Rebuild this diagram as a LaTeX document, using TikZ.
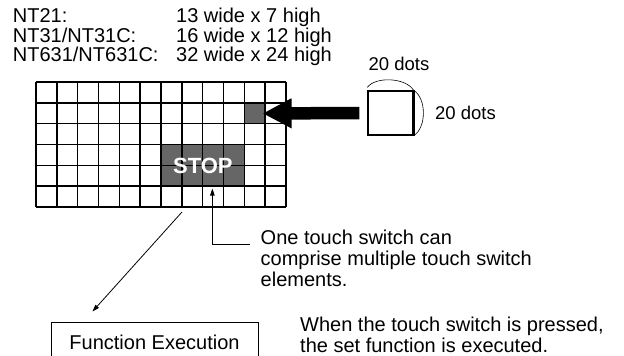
\documentclass[tikz,border=0pt]{standalone}
\usepackage{fontspec}
\setmainfont{Liberation Sans}
\usetikzlibrary{arrows.meta,positioning}
\definecolor{cellgray}{RGB}{102,102,102}

\tikzset{
  gridline/.style={line width=1.4pt},
  cellfill/.style={fill=cellgray, inner sep=0pt, anchor=north west},
  pointer/.style={line width=0.8pt, -{Triangle[length=7pt,width=4.5pt]}},
  dimarc/.style={line width=0.6pt},
  txt/.style={inner sep=0pt, align=left}
}

\begin{document}
\begin{tikzpicture}[x=1pt,y=-1pt,font=\fontsize{20}{21}\selectfont]
    \useasboundingbox (0,0) rectangle (624,356);
    % model sizes
    \node[txt, anchor=base west] (m1) at (12.7,23) {NT21:};
    \node[txt, anchor=base west] (m2) at (12.7,42) {NT31/NT31C:};
    \node[txt, anchor=base west] (m3) at (12.7,61) {NT631/NT631C:};
    \node[txt, anchor=base west] (s1) at (176,23) {13 wide x 7 high};
    \node[txt, anchor=base west] (s2) at (176,42) {16 wide x 12 high};
    \node[txt, anchor=base west] (s3) at (176,61) {32 wide x 24 high};
    % touch panel
    \node[cellfill, minimum size=20.83pt] (hot) at (244.33,102.83) {};
    \node[cellfill, minimum width=83.33pt, minimum height=41.67pt] (stop) at (161,144.5) {};
    \foreach \i in {0,...,12}
      \draw[gridline] (36+\i*20.833,82) -- (36+\i*20.833,207);
    \foreach \j in {0,...,6}
      \draw[gridline] (36,82+\j*20.833) -- (286,82+\j*20.833);
    \node[text=white, font=\fontsize{22}{22}\selectfont\bfseries] (stoplbl) at (stop.center) {STOP};
    % one element
    \node[draw, line width=1.3pt, minimum width=45pt, minimum height=44pt, inner sep=0pt] (elem) at (390.5,113) {};
    \draw[line width=2.4pt] (elem.north east) -- (elem.south east);
    \draw[dimarc] ([yshift=3pt]elem.north west) .. controls +(8,-11) and +(-8,-13) .. (elem.north east);
    \draw[dimarc] (elem.north east) .. controls +(13,8) and +(13,-8) .. (elem.south east);
    \node[txt, font=\fontsize{18.5}{18.5}\selectfont, anchor=base] (dtop) at (399,70) {20 dots};
    \node[txt, font=\fontsize{18.5}{18.5}\selectfont, anchor=west] (dright) at (435,113) {20 dots};
    \draw[line width=12.5pt, -{Triangle[length=29pt,width=28pt]}, shorten <=8pt, shorten >=-3pt] (elem.west) -- (hot.east);
    % notes
    \node[txt, anchor=north west] (note) at (260.5,229.4) {One touch switch can\\comprise multiple touch switch\\elements.};
    \coordinate (tail) at (250,244);
    \draw[pointer, shorten >=2pt] (tail) -| ([xshift=9.5pt]stop.south);
    \node[draw, line width=1pt, minimum width=207pt, minimum height=40pt] (func) at (154.5,342) {Function Execution};
    \coordinate (src) at (182,212);
    \draw[pointer] (src) -- ([xshift=42pt,yshift=10pt]func.north west);
    \node[txt, anchor=north west] (desc) at (300,316.4) {When the touch switch is pressed,\\the set function is executed.};
\end{tikzpicture}
\end{document}
